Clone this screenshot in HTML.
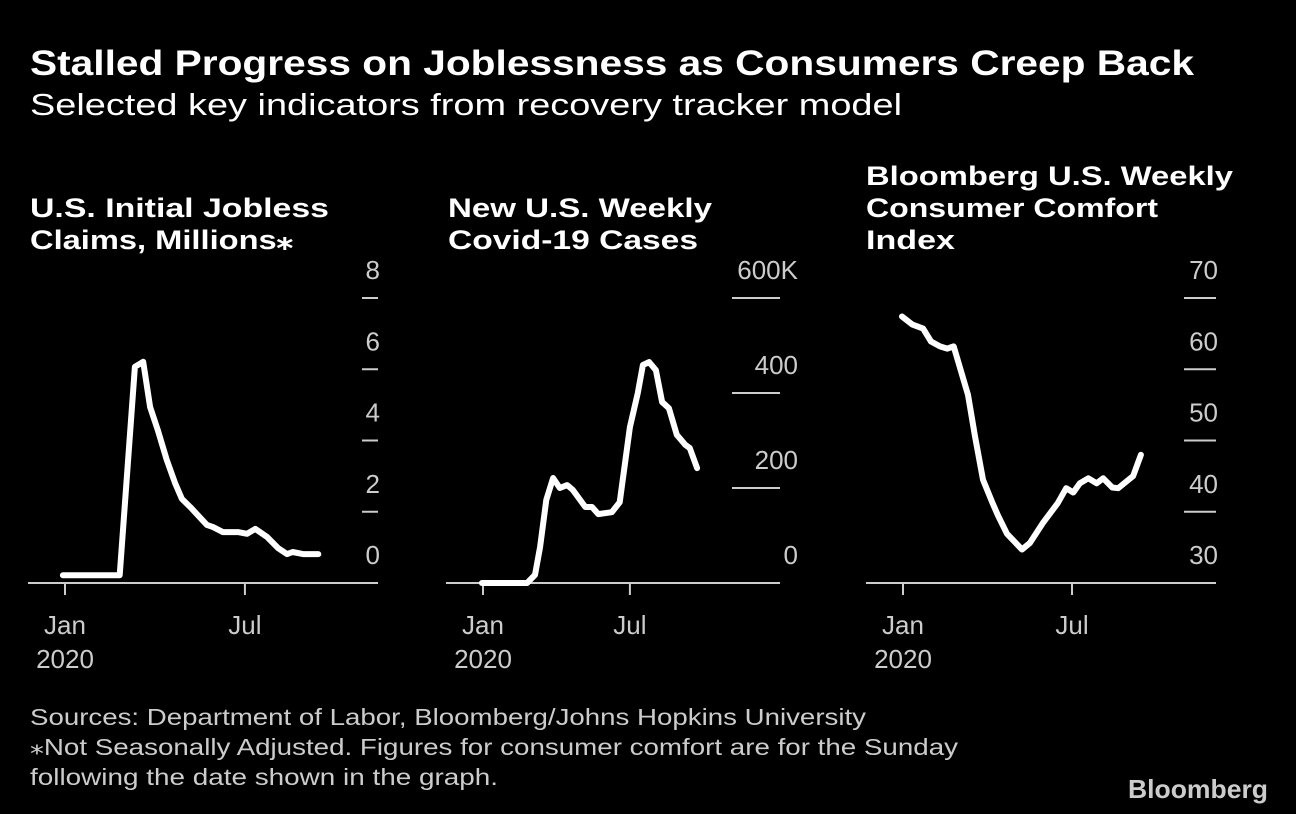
<!DOCTYPE html>
<html><head><meta charset="utf-8"><style>
html,body{margin:0;padding:0;background:#000;}
svg{display:block;font-family:"Liberation Sans",sans-serif;}
</style></head><body>
<svg id="c" width="1296" height="814" viewBox="0 0 1296 814">
<rect width="1296" height="814" fill="#000"/>
<text x="30" y="75" fill="#fff" font-size="35" font-weight="bold" textLength="1164" lengthAdjust="spacingAndGlyphs">Stalled Progress on Joblessness as Consumers Creep Back</text>
<text x="30" y="115" fill="#fff" font-size="31" textLength="872" lengthAdjust="spacingAndGlyphs">Selected key indicators from recovery tracker model</text>
<text x="30" y="725" fill="#ccc" font-size="23" textLength="836" lengthAdjust="spacingAndGlyphs">Sources: Department of Labor, Bloomberg/Johns Hopkins University</text>
<text x="30" y="755" fill="#ccc" font-size="23" textLength="928" lengthAdjust="spacingAndGlyphs">⁎Not Seasonally Adjusted. Figures for consumer comfort are for the Sunday</text>
<text x="30" y="785" fill="#ccc" font-size="23" textLength="468" lengthAdjust="spacingAndGlyphs">following the date shown in the graph.</text>
<text x="1128" y="798" fill="#ccc" font-size="26" font-weight="bold" textLength="140" lengthAdjust="spacingAndGlyphs">Bloomberg</text>
</svg>
<script>
// Chart 1: jobless claims (week index from Jan 1, millions)
const joblessWeeks = [-0.3,7.9,10.1,11.3,12.3,13.4,14.7,15.9,16.9,18.1,20.5,21.4,22.8,25.0,26.3,27.5,29.2,30.8,32.1,32.9,34.4,36.6];
const joblessValues = [0.22,0.22,6.07,6.21,4.94,4.30,3.46,2.81,2.36,2.13,1.63,1.57,1.43,1.43,1.38,1.52,1.29,0.98,0.81,0.87,0.81,0.81];
const joblessTicks = [0,2,4,6,8];
const joblessTickLabels = ["0","2","4","6","8"];
// Chart 2: covid cases (thousands)
const covidWeeks = [-0.2,7.8,9.2,10.1,11.2,12.4,13.6,14.9,15.9,18.1,19.3,20.4,22.8,24.2,26.0,27.4,28.3,29.4,30.6,31.7,32.9,34.3,35.8,36.6,37.9];
const covidValues = [0,0,17,76,175,221,200,206,196,160,160,145,149,170,328,400,459,465,448,381,368,312,291,284,242];
const covidTicks = [0,200,400,600];
const covidTickLabels = ["0","200","400","600K"];
// Chart 3: consumer comfort
const comfortWeeks = [-0.15,1.4,3.1,4.3,5.7,6.8,7.8,10.0,11.1,12.3,13.7,14.6,16.0,18.3,19.5,21.5,23.8,25.1,26.2,27.2,28.5,29.8,30.8,32.2,33.1,35.4,36.6];
const comfortValues = [67.4,66.3,65.7,63.9,63.2,62.9,63.2,56.4,50.5,44.5,41.4,39.5,36.9,34.7,35.6,38.4,41.2,43.3,42.7,44.0,44.7,44.0,44.7,43.4,43.3,45.0,48.0];
const comfortTicks = [30,40,50,60,70];
const comfortTickLabels = ["30","40","50","60","70"];
const xTickWeeks = [0,26];
const xTickLabels = ["Jan","Jul"];

const NS="http://www.w3.org/2000/svg";
const svg=document.getElementById('c');
function mk(tag,attrs,parent){const e=document.createElementNS(NS,tag);for(const k in attrs)e.setAttribute(k,attrs[k]);(parent||svg).appendChild(e);return e;}

function chart(o){
  const g=mk('g',{});
  
  
  const x=w=>o.x0+w*o.pxw;
  const y=v=>583-(v-o.vmin)/(o.vmax-o.vmin)*285;
  o.title.forEach((t,i)=>{
    const tt=mk('text',{x:o.tx,y:o.ty+i*32,fill:'#fff','font-size':27,'font-weight':'bold',textLength:o.tw[i],lengthAdjust:'spacingAndGlyphs'},g);
    
    
    tt.textContent=t;
  });
  const base=mk('line',{x1:o.ax1,x2:o.ax2,y1:583,y2:583,stroke:'#ccc','stroke-width':2},g);
  
  
  o.ticks.forEach((v,i)=>{
    const yy=y(v);
    if(i>0){
      const l=mk('line',{x1:o.gx1,x2:o.ax2,y1:yy,y2:yy,stroke:'#ccc','stroke-width':2},g);
      
      
    }
    const t=mk('text',{x:o.lx,y:yy-19,fill:'#ccc','font-size':26,'text-anchor':'end'},g);
    
    
    t.textContent=o.labels[i];
  });
  xTickWeeks.forEach((w,i)=>{
    const xx=x(w);
    const l=mk('line',{x1:xx,x2:xx,y1:583,y2:595,stroke:'#ccc','stroke-width':2},g);
    
    
    const t=mk('text',{x:xx,y:634,fill:'#ccc','font-size':26,'text-anchor':'middle'},g);
    
    
    t.textContent=xTickLabels[i];
    if(i===0){
      const t2=mk('text',{x:xx,y:668,fill:'#ccc','font-size':26,'text-anchor':'middle'},g);
      
      
      t2.textContent='2020';
    }
  });
  const d=o.weeks.map((w,i)=>(i?'L':'M')+x(w).toFixed(1)+','+y(o.values[i]).toFixed(1)).join(' ');
  const p=mk('path',{d:d,fill:'none',stroke:'#fff','stroke-width':6,'stroke-linejoin':'round','stroke-linecap':'round'},g);
  
  
}
chart({name:'jobless-claims-panel',x0:65,pxw:6.92,vmin:0,vmax:8,weeks:joblessWeeks,values:joblessValues,ticks:joblessTicks,labels:joblessTickLabels,
  title:['U.S. Initial Jobless','Claims, Millions⁎'],tw:[299,263],tx:30,ty:217,ax1:28,ax2:378,gx1:362,lx:380});
chart({name:'covid-cases-panel',x0:483,pxw:5.65,vmin:0,vmax:600,weeks:covidWeeks,values:covidValues,ticks:covidTicks,labels:covidTickLabels,
  title:['New U.S. Weekly','Covid-19 Cases'],tw:[264,250],tx:448,ty:217,ax1:446,ax2:780,gx1:732,lx:798});
chart({name:'consumer-comfort-panel',x0:903,pxw:6.5,vmin:30,vmax:70,weeks:comfortWeeks,values:comfortValues,ticks:comfortTicks,labels:comfortTickLabels,
  title:['Bloomberg U.S. Weekly','Consumer Comfort','Index'],tw:[367,292,89],tx:866,ty:185,ax1:866,ax2:1216,gx1:1184,lx:1218});
</script>
</body></html>
